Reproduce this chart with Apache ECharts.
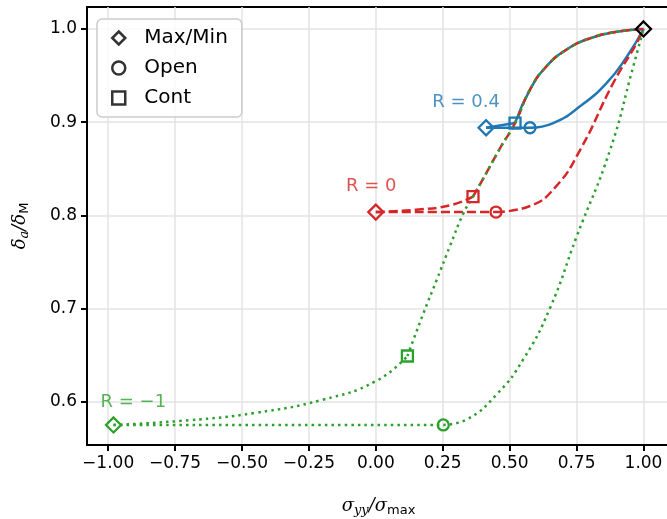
<!DOCTYPE html>
<html>
<head>
<meta charset="UTF-8">
<title></title>
<script src="https://cdn.jsdelivr.net/npm/echarts@6/dist/echarts.min.js"></script>
<style>
  html, body { margin: 0; padding: 0; background: #fff; }
</style>
</head>
<body>
<div id="chart" style="width: 667px; height: 519px;"></div>
<script type="text/javascript">
// tick values
var xTicks = [-1, -0.75, -0.5, -0.25, 0, 0.25, 0.5, 0.75, 1];
var yTicks = [0.6, 0.7, 0.8, 0.9, 1.0];

// R = 0.4 (blue)
var blueFlat = [[0.412, 0.894], [0.576, 0.894]];
var blueUnload = [[0.412, 0.894], [0.52, 0.899]];
var blueOpen = [[0.576, 0.894], [0.663, 0.899], [0.763, 0.917], [0.862, 0.942], [0.937, 0.970], [1.0, 1.0]];
var blueCont = [[0.52, 0.899], [0.576, 0.935], [0.638, 0.960], [0.713, 0.978], [0.80, 0.990], [0.90, 0.997], [1.0, 1.0]];
var blueMarks = [[0.412, 0.894, 'diamond'], [0.52, 0.899, 'rect'], [0.576, 0.894, 'circle']];

// R = 0 (red)
var redFlat = [[0.0, 0.8035], [0.449, 0.8035]];
var redUnload = [[0.0, 0.8035], [0.15, 0.806], [0.28, 0.811], [0.363, 0.82]];
var redOpen = [[0.449, 0.8035], [0.576, 0.810], [0.67, 0.830], [0.763, 0.870], [0.887, 0.942], [0.975, 0.985], [1.0, 1.0]];
var redCont = [[0.363, 0.82], [0.414, 0.846], [0.464, 0.872], [0.52, 0.899], [0.576, 0.935], [0.638, 0.960], [0.713, 0.978], [0.80, 0.990], [0.90, 0.997], [1.0, 1.0]];
var redMarks = [[0.0, 0.8035, 'diamond'], [0.363, 0.82, 'rect'], [0.449, 0.8035, 'circle']];

// R = -1 (green)
var greenFlat = [[-0.98, 0.575], [0.252, 0.575]];
var greenUnload = [[-0.98, 0.575], [-0.70, 0.580], [-0.45, 0.588], [-0.20, 0.602], [0.0, 0.622], [0.118, 0.649]];
var greenOpen = [[0.252, 0.575], [0.34, 0.581], [0.452, 0.608], [0.55, 0.645], [0.65, 0.700], [0.75, 0.777], [0.875, 0.870], [0.962, 0.960], [1.0, 1.0]];
var greenCont = [[0.118, 0.649], [0.178, 0.695], [0.228, 0.731], [0.277, 0.767], [0.327, 0.802], [0.363, 0.82], [0.414, 0.846], [0.464, 0.872], [0.52, 0.899], [0.576, 0.935], [0.638, 0.960], [0.713, 0.978], [0.80, 0.990], [0.90, 0.997], [1.0, 1.0]];
var greenMarks = [[-0.98, 0.575, 'diamond'], [0.118, 0.649, 'rect'], [0.252, 0.575, 'circle']];

var maxPoint = [[1.0, 1.0, 'diamond']];

var labels = [
  {value: [0.337, 0.921], name: 'R = 0.4', color: '#1f77b4'},
  {value: [-0.017, 0.831], name: 'R = 0', color: '#d62728'},
  {value: [-0.906, 0.599], name: 'R = \u22121', color: '#2ca02c'}
];

var FONT = 'DejaVu Sans';
var BLUE = '#1f77b4', RED = '#d62728', GREEN = '#2ca02c';

function curve(data, color, type) {
  var ls = {color: color, width: 2.5, type: 'solid'};
  if (type == 'dashed') { ls.type = [9, 4]; }
  if (type == 'dotted') { ls.type = [2.5, 4.1]; }
  return {
    type: 'line', data: data, showSymbol: false, symbol: 'none',
    smooth: 0.5,
    lineStyle: ls, silent: true, z: 2
  };
}

function marks(data, color, z) {
  return {
    type: 'scatter', data: data, z: z || 5,
    symbol: function (v) { return v[2]; },
    symbolSize: function (v) { return v[2] == 'diamond' ? 15 : 11; },
    itemStyle: {color: 'rgba(0,0,0,0)', borderColor: color, borderWidth: 2.3, opacity: 1}
  };
}

var series = [
  curve(blueFlat, BLUE), curve(blueUnload, BLUE), curve(blueOpen, BLUE), curve(blueCont, BLUE),
  curve(redFlat, RED, 'dashed'), curve(redUnload, RED, 'dashed'), curve(redOpen, RED, 'dashed'), curve(redCont, RED, 'dashed'),
  curve(greenFlat, GREEN, 'dotted'), curve(greenUnload, GREEN, 'dotted'), curve(greenOpen, GREEN, 'dotted'), curve(greenCont, GREEN, 'dotted'),
  marks(blueMarks, BLUE), marks(redMarks, RED), marks(greenMarks, GREEN),
  marks(maxPoint, '#000', 6),
  {
    type: 'scatter', symbolSize: 0, z: 7,
    data: labels.map(function (l) {
      return {value: l.value, name: l.name, label: {color: l.color}};
    }),
    label: {show: true, position: 'inside', formatter: '{b}', fontFamily: FONT, fontSize: 18}
  },
  {type: 'scatter', name: 'Max/Min', data: []},
  {type: 'scatter', name: 'Open', data: []},
  {type: 'scatter', name: 'Cont', data: []}
];

var myChart = echarts.init(document.getElementById('chart'));
var option = {
  animation: false,
  textStyle: {fontFamily: FONT},
  grid: {
    left: 87, top: 7, width: 583, height: 438,
    outerBoundsMode: 'none', containLabel: false,
    show: true, borderColor: '#000', borderWidth: 2, backgroundColor: 'transparent'
  },
  legend: {
    orient: 'vertical', left: 97, top: 19,
    itemWidth: 13, itemHeight: 13, itemGap: 10,
    padding: [9, 14, 9, 14],
    borderColor: '#cccccc', borderWidth: 1.5, borderRadius: 5,
    backgroundColor: 'rgba(255,255,255,0.8)',
    textStyle: {fontFamily: FONT, fontSize: 20, color: '#000', padding: [0, 0, 0, 14]},
    itemStyle: {color: 'rgba(0,0,0,0)', borderColor: '#000', borderWidth: 2.5},
    data: [
      {name: 'Max/Min', icon: 'diamond'},
      {name: 'Open', icon: 'circle'},
      {name: 'Cont', icon: 'rect'}
    ]
  },
  xAxis: {
    type: 'value', min: -1.079, max: 1.099,
    name: '{i|\u03c3}{s|yy}{i|/\u03c3}{u|max}',
    nameLocation: 'middle', nameGap: 51,
    nameTextStyle: {
      rich: {
        i: {fontFamily: 'DejaVu Serif', fontStyle: 'italic', fontSize: 18, color: '#000'},
        s: {fontFamily: 'DejaVu Serif', fontStyle: 'italic', fontSize: 13, color: '#000', padding: [8, 0, 0, 0]},
        u: {fontFamily: FONT, fontSize: 13, color: '#000', padding: [8, 0, 0, 0]}
      }
    },
    axisLine: {show: true, onZero: false, lineStyle: {color: '#000', width: 2}},
    axisTick: {show: true, length: 6, inside: false, customValues: xTicks, lineStyle: {color: '#000', width: 2}},
    axisLabel: {
      customValues: xTicks, margin: 10, fontSize: 17, color: '#000', fontFamily: FONT,
      formatter: function (v) { return (v < 0 ? '\u2212' : '') + Math.abs(v).toFixed(2); }
    },
    splitLine: {show: true, lineStyle: {color: '#e3e3e3', width: 1.5}}
  },
  yAxis: {
    type: 'value', min: 0.5535, max: 1.0236,
    name: '{i|\u03b4}{s|a}{i|/\u03b4}{u|M}',
    nameLocation: 'middle', nameGap: 56, nameRotate: 90,
    nameTextStyle: {
      rich: {
        i: {fontFamily: 'DejaVu Serif', fontStyle: 'italic', fontSize: 18, color: '#000'},
        s: {fontFamily: 'DejaVu Serif', fontStyle: 'italic', fontSize: 13, color: '#000', padding: [8, 0, 0, 0]},
        u: {fontFamily: FONT, fontSize: 13, color: '#000', padding: [8, 0, 0, 0]}
      }
    },
    axisLine: {show: true, onZero: false, lineStyle: {color: '#000', width: 2}},
    axisTick: {show: true, length: 6, inside: false, customValues: yTicks, lineStyle: {color: '#000', width: 2}},
    axisLabel: {
      customValues: yTicks, margin: 10, fontSize: 17, color: '#000', fontFamily: FONT,
      formatter: function (v) { return v.toFixed(1); }
    },
    splitLine: {show: true, lineStyle: {color: '#e3e3e3', width: 1.5}}
  },
  series: series
};
myChart.setOption(option);
</script>
</body>
</html>
